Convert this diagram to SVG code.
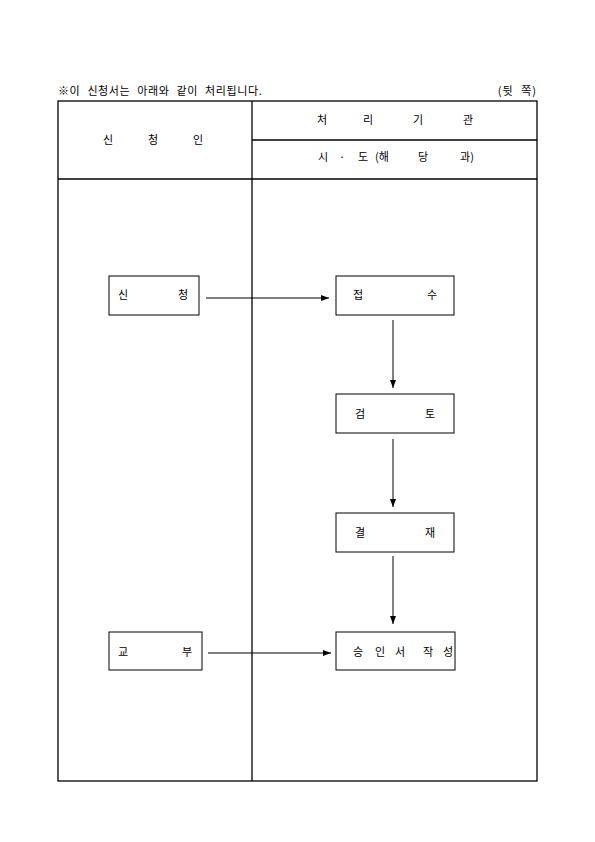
<svg xmlns="http://www.w3.org/2000/svg" width="595" height="842" viewBox="0 0 595 842">
<style>
text{font-family:"Noto Sans CJK KR","Noto Sans",sans-serif;font-size:11px;fill:#000;text-anchor:middle}
.tb{fill:none;stroke:#000;stroke-width:1.3}
.bx{fill:#fff;stroke:#000;stroke-width:1}
.cn{fill:none;stroke:#000;stroke-width:1;marker-end:url(#ah)}
</style>
<defs>
<marker id="ah" viewBox="0 0 8 6" refX="8" refY="3" markerWidth="8" markerHeight="6" markerUnits="userSpaceOnUse" orient="auto">
<path d="M0,0 L8,3 L0,6 Z" fill="#000"/>
</marker>
</defs>
<rect width="595" height="842" fill="#fff"/>
<g id="title">
<text x="58" y="95" style="text-anchor:start;letter-spacing:0.6px;word-spacing:4px">※이 신청서는 아래와 같이 처리됩니다.</text>
<text x="537" y="95" style="text-anchor:end;letter-spacing:1px;word-spacing:4px">(뒷 쪽)</text>
</g>
<g id="table">
<rect class="tb" x="58" y="101" width="479" height="680"/>
<line class="tb" x1="252" y1="101" x2="252" y2="781"/>
<line class="tb" x1="58" y1="179" x2="537" y2="179"/>
<line class="tb" x1="252" y1="140" x2="537" y2="140"/>
<text x="108" y="144">신</text><text x="153" y="144">청</text><text x="198" y="144">인</text>
<text x="322" y="124">처</text><text x="368" y="124">리</text><text x="418" y="124">기</text><text x="468" y="124">관</text>
<text x="323" y="161">시</text><text x="342" y="161">·</text><text x="363" y="161">도</text><text x="382" y="161">(해</text><text x="423" y="161">당</text><text x="467" y="161">과)</text>
</g>
<g id="connectors">
<line class="cn" x1="206" y1="298" x2="329" y2="298"/>
<line class="cn" x1="393" y1="320" x2="393" y2="388"/>
<line class="cn" x1="393" y1="439" x2="393" y2="507"/>
<line class="cn" x1="393" y1="556" x2="393" y2="624"/>
<line class="cn" x1="208" y1="653" x2="331" y2="653"/>
</g>
<g id="n-apply">
<rect class="bx" x="109" y="276" width="90" height="39"/>
<text x="123" y="299">신</text><text x="183" y="299">청</text>
</g>
<g id="n-receive">
<rect class="bx" x="336" y="276" width="118" height="39"/>
<text x="358" y="299">접</text><text x="432" y="299">수</text>
</g>
<g id="n-review">
<rect class="bx" x="336" y="394" width="118" height="39"/>
<text x="360" y="418">검</text><text x="430" y="418">토</text>
</g>
<g id="n-approve">
<rect class="bx" x="336" y="513" width="118" height="39"/>
<text x="360" y="537">결</text><text x="430" y="537">재</text>
</g>
<g id="n-deliver">
<rect class="bx" x="109" y="632" width="93" height="38"/>
<text x="123" y="656">교</text><text x="187" y="656">부</text>
</g>
<g id="n-write">
<rect class="bx" x="336" y="632" width="119" height="38"/>
<text x="358" y="656">승</text><text x="380" y="656">인</text><text x="400" y="656">서</text><text x="428" y="656">작</text><text x="448" y="656">성</text>
</g>
</svg>
